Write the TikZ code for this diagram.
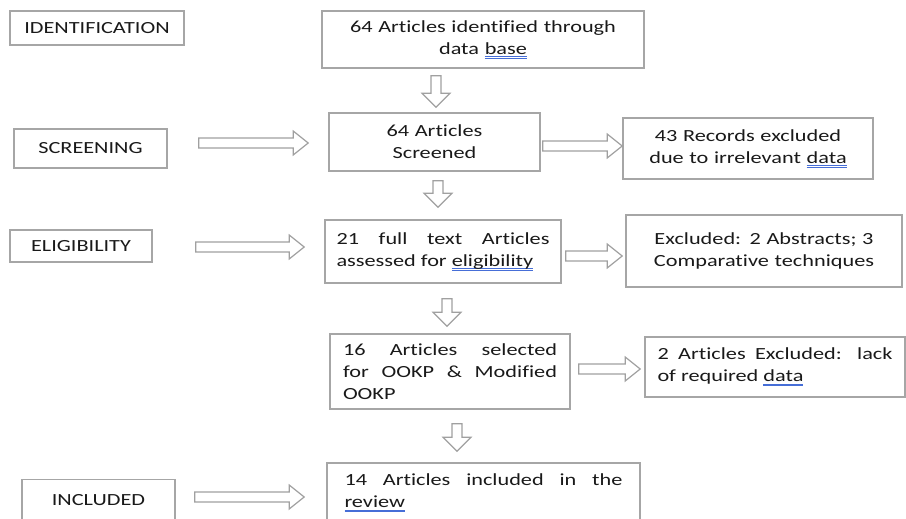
\documentclass[tikz,border=0pt]{standalone}
\usepackage{fontspec}
\setmainfont{Carlito}[FakeStretch=1.31,Ligatures=NoCommon]
\usetikzlibrary{calc}
\definecolor{boxgray}{RGB}{166,166,166}
\definecolor{arrowgray}{RGB}{160,160,160}
\definecolor{ulblue}{RGB}{70,110,215}
\hbadness=10000
\newcommand\gramul[1]{\setbox0\hbox{#1}\rlap{\color{ulblue}\rule[-2.6pt]{\wd0}{0.6pt}\hskip-\wd0\rule[-4pt]{\wd0}{0.6pt}}#1}

\begin{document}
\begin{tikzpicture}[
					x=1pt,y=-1pt,
					font=\fontsize{17}{22}\selectfont,
					text=black!90,
					box/.style={rectangle,draw=boxgray,line width=1.6pt,inner sep=0pt,align=center},
					jbox/.style={box,align=justify},
					rblock/.style={draw=arrowgray,line width=1.2pt,
						to path={let \p1=(\tikztostart),\p2=(\tikztotarget) in
							(\x1,\y1-5pt) -- (\x2-15pt,\y1-5pt) -- (\x2-15pt,\y1-12pt) -- (\x2,\y1)
							-- (\x2-15pt,\y1+12pt) -- (\x2-15pt,\y1+5pt) -- (\x1,\y1+5pt) -- cycle}},
					dblock/.style={draw=arrowgray,line width=1.2pt,
						to path={let \p1=(\tikztostart),\p2=(\tikztotarget) in
							(\x1-5pt,\y1) -- (\x1-5pt,\y2+14pt) -- (\x1-14pt,\y2+14pt) -- (\x1,\y2)
							-- (\x1+14pt,\y2+14pt) -- (\x1+5pt,\y2+14pt) -- (\x1+5pt,\y1) -- cycle}},
					]
					\useasboundingbox (0,0) rectangle (906,519);
					\node [box,minimum width=174pt,minimum height=34pt] (ident) at (97,28) {IDENTIFICATION};
					\node [box,minimum width=153pt,minimum height=39pt] (scrlbl) at (90.5,148.5) {SCREENING};
					\node [box,minimum width=142pt,minimum height=32pt] (eliglbl) at (81,246) {ELIGIBILITY};
					\node [box,minimum width=153pt,minimum height=41pt] (incllbl) at (98.5,500) {INCLUDED};
					\node [box,text width=300pt,minimum width=322pt,minimum height=57pt] (found) at (483,39.5)
						{64 Articles identified through\\ data \gramul{base}};
					\node [box,text width=190pt,minimum width=211pt,minimum height=58pt] (screened) at (434.5,142)
						{64 Articles\\ Screened};
					\node [box,text width=230pt,minimum width=250pt,minimum height=61pt] (irrel) at (748,148.5)
						{43 Records excluded\\ due to irrelevant \gramul{data}};
					\node [jbox,text width=213pt,minimum width=236pt,minimum height=63pt] (fulltext) at (443,251.5)
						{21 full text Articles\linebreak assessed for \gramul{eligibility}};
					\node [box,text width=250pt,minimum width=276pt,minimum height=72pt] (abstr) at (764,251)
						{Excluded: 2 Abstracts; 3\\ Comparative techniques};
					\node [jbox,text width=214pt,minimum width=240pt,minimum height=75pt] (selected) at (450,371.5)
						{16 Articles selected\linebreak for OOKP \& Modified\linebreak OOKP};
					\node [jbox,text width=235pt,minimum width=260pt,minimum height=60pt] (lackdata) at (775,367)
						{2 Articles Excluded: lack\linebreak of required \gramul{data}};
					\node [jbox,text width=278pt,minimum width=313pt,minimum height=60pt] (review) at (483.5,493)
						{14 Articles included in the\linebreak \gramul{review}};
					\draw[dblock] ([xshift=-47pt,yshift=-7pt]found.south) to ([yshift=5pt]screened.north);
					\draw[rblock] ([xshift=31pt,yshift=5.5pt]scrlbl.east) to ([xshift=-20pt]screened.west);
					\draw[rblock] ([xshift=2pt,yshift=-4pt]screened.east) to (irrel.west);
					\draw[dblock] ([xshift=3.5pt,yshift=-9pt]screened.south) to ([yshift=12pt]fulltext.north);
					\draw[rblock] ([xshift=43pt,yshift=-1pt]eliglbl.east) to ([xshift=-20pt]fulltext.west);
					\draw[rblock] ([xshift=4pt,yshift=-4.5pt]fulltext.east) to ([xshift=-3pt]abstr.west);
					\draw[dblock] ([xshift=4pt,yshift=-15pt]fulltext.south) to ([yshift=7pt]selected.north);
					\draw[rblock] ([xshift=8pt,yshift=2.5pt]selected.east) to ([xshift=-4pt]lackdata.west);
					\draw[dblock] ([xshift=7pt,yshift=-14pt]selected.south) to ([yshift=11pt]review.north);
					\draw[rblock] ([xshift=19pt,yshift=3pt]incllbl.east) to ([xshift=-22pt]review.west);
				\end{tikzpicture}
\end{document}
